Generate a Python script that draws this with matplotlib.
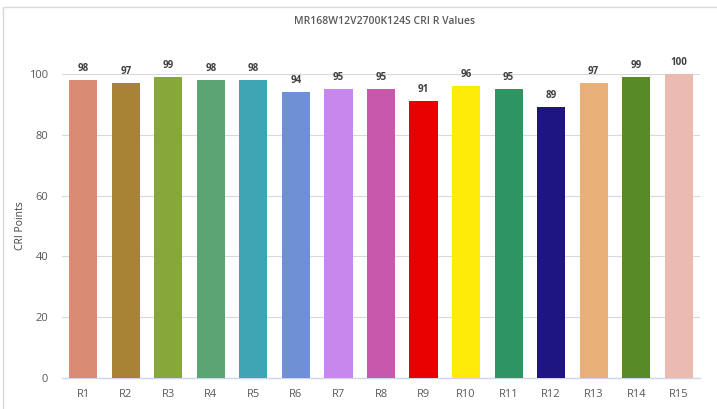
import matplotlib
matplotlib.use("Agg")
import matplotlib.pyplot as plt
from matplotlib.patches import Rectangle

categories = ["R1", "R2", "R3", "R4", "R5", "R6", "R7", "R8", "R9", "R10", "R11", "R12", "R13", "R14", "R15"]
values = [98, 97, 99, 98, 98, 94, 95, 95, 91, 96, 95, 89, 97, 99, 100]
colors = ["#D98B73", "#A88235", "#86A83B", "#5BA474", "#3FA5B4", "#6F90D4", "#C787EC", "#C858AC",
          "#E80000", "#FFEB0A", "#2E9462", "#1E1580", "#E6B077", "#588A28", "#EBBAB0"]
title = "MR168W12V2700K124S CRI R Values"
ylabel = "CRI Points"

plt.rcParams['font.family'] = ['Open Sans', 'DejaVu Sans']

fig = plt.figure(figsize=(7.17, 4.09), dpi=100)
fig.patches.append(Rectangle((3/717, -0.01), 1.0, 1 - 7/409 + 0.01, transform=fig.transFigure,
                             fill=False, edgecolor="#D9D9D9", linewidth=1.0))
ax = fig.add_axes([62/717, 1 - 378/409, (700 - 62)/717, (378 - 74)/409])

x = list(range(len(categories)))
bars = ax.bar(x, values, width=0.66, color=colors, zorder=3)
for xi, v in zip(x, values):
    ax.text(xi, v + 2.0, str(v), ha="center", va="bottom", fontsize=7, fontweight="bold",
            color="#404040", clip_on=False)

ax.set_xlim(-0.5, len(categories) - 0.5)
ax.set_ylim(0, 100)
ax.set_yticks([0, 20, 40, 60, 80, 100])
ax.set_xticks(x)
ax.set_xticklabels(categories)
ax.tick_params(axis="both", length=0, labelsize=8, colors="#595959")
ax.tick_params(axis="x", pad=8)
ax.tick_params(axis="y", pad=10)
ax.grid(axis="y", color="#D9D9D9", linewidth=0.8, zorder=0)
for s in ["top", "right", "left"]:
    ax.spines[s].set_visible(False)
ax.spines["bottom"].set_color("#CFD6EA")
ax.spines["bottom"].set_linewidth(1.0)
ax.set_ylabel(ylabel, fontsize=7.5, color="#404040", labelpad=2)
fig.text((62 + 700) / 2 / 717 + 0.005, 1 - 22/409, title, ha="center", va="center",
         fontsize=7.5, color="#595959", fontweight="semibold")

fig.savefig("out.png", dpi=100)
